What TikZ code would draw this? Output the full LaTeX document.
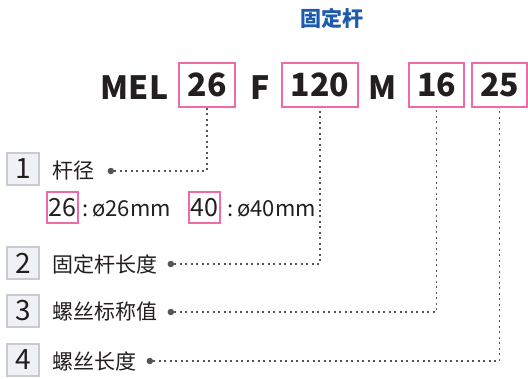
\documentclass[tikz,border=0pt]{standalone}
\usepackage{fontspec}
\setmainfont{Noto Sans CJK SC}
\usetikzlibrary{positioning}
\definecolor{BoxClr}{RGB}{238,107,168}
\definecolor{TitleClr}{RGB}{30,90,172}
\definecolor{NumFill}{RGB}{240,241,244}
\definecolor{NumLine}{RGB}{200,203,208}
\definecolor{DotClr}{RGB}{85,85,85}
\definecolor{TextClr}{RGB}{35,30,32}

\begin{document}
\begin{tikzpicture}[x=1pt,y=-1pt,
  code/.style={font=\fontsize{32}{32}\selectfont\bfseries,text=TextClr,inner sep=0pt},
  codebox/.style={code,draw=BoxClr,line width=1.4pt,minimum height=44pt},
  smallbox/.style={draw=BoxClr,line width=1.2pt,minimum height=31pt,inner sep=0pt,font=\fontsize{25}{25}\selectfont,text=TextClr},
  num/.style={draw=NumLine,fill=NumFill,line width=1.4pt,minimum width=32pt,minimum height=32pt,inner sep=0pt,font=\fontsize{28}{28}\selectfont,text=TextClr},
  item/.style={anchor=west,inner sep=0pt,font=\fontsize{21}{21}\selectfont,text=TextClr},
  size/.style={anchor=west,inner sep=0pt,font=\fontsize{22}{22}\selectfont,text=TextClr},
  leader/.style={DotClr,line width=1.8pt,dash pattern=on 1.8pt off 3.7pt},
  tip/.style={circle,fill=DotClr,inner sep=0pt,minimum size=6.5pt}]
\useasboundingbox (0,0) rectangle (528,378);

\node[inner sep=0pt,font=\fontsize{21}{21}\selectfont\bfseries,text=TitleClr] (title) at (332,18) {固定杆};

\node[code] (mel) at (134.5,87.5) {MEL};
\node[codebox,minimum width=56pt] (c26) at (207,85) {26};
\node[code] (f) at (260,87.5) {F};
\node[codebox,minimum width=76pt] (c120) at (320,85) {120};
\node[code] (m) at (382.5,87.5) {M};
\node[codebox,minimum width=55pt] (c16) at (436.5,85) {16};
\node[codebox,minimum width=55pt] (c25) at (499.5,85) {25};

\node[num] (n1) at (23,169) {1};
\node[item] (t1) at (52,171) {杆径};
\node[tip,right=13pt of t1] (d1) {};

\node[smallbox,minimum width=31pt] (s26) at (62.5,207.5) {26};
\node[size] (v26) at (82,209) {:\hspace{4pt}ø26mm};
\node[smallbox,minimum width=31pt] (s40) at (204.5,207.5) {40};
\node[size] (v40) at (227,209) {:\hspace{4pt}ø40mm};

\node[num] (n2) at (23,263) {2};
\node[item] (t2) at (52,264) {固定杆长度};
\node[tip,right=10pt of t2] (d2) {};

\node[num] (n3) at (23,311) {3};
\node[item] (t3) at (52,312) {螺丝标称值};
\node[tip,right=10pt of t3] (d3) {};

\node[num] (n4) at (23,360) {4};
\node[item] (t4) at (52,361) {螺丝长度};
\node[tip,right=10pt of t4] (d4) {};

\draw[leader] (d1) -| (c26.south);
\draw[leader] (d2) -| (c120.south);
\draw[leader] (d3) -| (c16.south);
\draw[leader] (d4) -| (c25.south);

\end{tikzpicture}
\end{document}
